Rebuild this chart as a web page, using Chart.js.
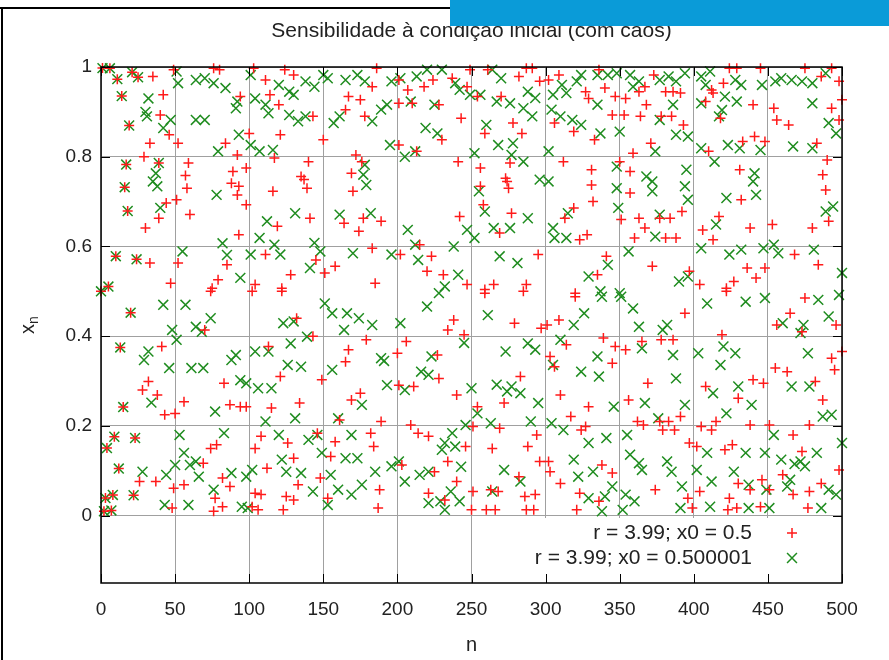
<!DOCTYPE html>
<html>
<head>
<meta charset="utf-8">
<script src="https://cdn.jsdelivr.net/npm/chart.js@4/dist/chart.umd.min.js"></script>
<style>
  html, body { margin: 0; padding: 0; background: #fff; }
  canvas { display: block; }
</style>
</head>
<body>
<canvas id="c" width="889" height="660"></canvas>
<script>
// Logistic map orbits, r = 3.99: first iterates (both starts still coincide)
const startValues = [0.5, 0.9975, 0.00995, 0.03931, 0.15067, 0.51058, 0.99705, 0.01172, 0.04623, 0.17592,
  0.57844, 0.97295, 0.105, 0.37496, 0.93511, 0.2421, 0.73212, 0.78252, 0.67903, 0.86961,
  0.45242, 0.98847, 0.04547, 0.17319, 0.57135, 0.97719];

// [n, x_n] samples after the orbits separate
const redPoints = [
  [35,.979],[49,.994],[76,.997],[80,.994],[42,.938],[40,.893],[46,.849],[33,.830],[52,.830],[29,.800],[59,.786],[57,.758],[58,.730],[51,.704],[44,.697],[60,.671],[39,.663],[30,.641],[84,.830],[92,.804],[89,.767],[88,.741],[93,.734],[92,.715],[94,.934],[93,.626],[33,.563],[52,.563],[85,.559],[47,.518],[75,.507],[79,.526],[39,.786],
  [74,.500],[41,.377],[32,.299],[28,.280],[38,.269],[56,.254],[43,.225],[50,.228],[83,.295],[87,.247],[94,.243],[70,.414],[26,.076],[37,.076],[49,.061],[56,.069],[48,.017],[74,.150],[78,.158],[69,.117],[82,.084],[87,.065],[77,.039],[76,.010],[82,.020],
  [103,.997],[124,.994],[130,.982],[186,.997],[111,.971],[114,.938],[120,.916],[143,.890],[167,.934],[175,.927],[165,.905],[178,.890],[183,.956],[100,.852],[121,.849],[150,.838],[117,.797],[140,.789],[137,.749],[135,.756],[139,.730],[172,.804],[176,.789],[169,.763],[170,.723],[116,.723],[98,.693],[141,.663],[119,.645],[164,.652],[174,.634],[177,.663],[189,.656],[111,.582],[145,.570],[158,.556],[151,.541],[128,.537],[183,.596],[185,.518],[122,.507],[104,.515],[98,.775],
  [102,.500],[122,.500],[132,.440],[143,.400],[113,.377],[167,.370],[165,.343],[179,.392],[121,.310],[149,.303],[175,.273],[169,.258],[115,.240],[134,.251],[98,.243],[189,.210],[161,.213],[108,.177],[126,.162],[104,.150],[182,.184],[158,.165],[184,.154],[130,.128],[155,.132],[112,.106],[148,.084],[133,.069],[104,.050],[108,.047],[125,.043],[130,.035],[106,.013],[102,.020],[123,.013],[153,.039],[188,.058],[187,.017],[146,.184],
  [201,.971],[207,.949],[218,.956],[224,.971],[237,.975],[249,.994],[261,.994],[247,.956],[287,.997],[291,.997],[296,.968],[282,.979],[201,.919],[210,.919],[228,.916],[254,.934],[270,.934],[243,.886],[278,.875],[284,.852],[259,.852],[230,.838],[201,.826],[213,.812],[241,.789],[256,.775],[273,.752],[274,.745],[275,.730],[256,.734],[276,.786],[258,.693],[277,.674],[242,.667],[269,.630],[215,.604],[202,.582],[223,.578],[220,.545],[231,.537],[247,.515],[265,.515],[287,.515],[295,.582],[259,.504],
  [259,.496],[285,.500],[238,.436],[234,.414],[245,.403],[279,.429],[297,.418],[206,.388],[200,.362],[227,.358],[228,.306],[211,.288],[201,.291],[240,.269],[272,.251],[283,.310],[254,.243],[251,.199],[269,.195],[209,.202],[221,.177],[214,.184],[246,.154],[264,.150],[288,.154],[294,.180],[234,.121],[203,.113],[296,.121],[225,.098],[282,.087],[240,.076],[221,.050],[251,.054],[263,.058],[268,.054],[286,.043],[293,.047],[250,.013],[260,.013],[266,.013],[287,.013],[292,.013],[232,.035],
  [302,.971],[309,.982],[336,.994],[340,.953],[327,.945],[329,.930],[347,.934],[354,.930],[363,.945],[367,.956],[373,.982],[381,.945],[386,.945],[391,.942],[368,.916],[345,.893],[353,.893],[364,.890],[378,.890],[385,.890],[393,.871],[306,.875],[319,.856],[333,.838],[371,.830],[359,.808],[312,.789],[331,.771],[350,.789],[357,.767],[331,.737],[332,.700],[357,.719],[319,.686],[313,.663],[351,.660],[363,.663],[367,.641],[377,.663],[384,.663],[392,.678],[328,.626],[323,.615],[360,.619],[381,.619],[388,.619],[341,.578],[335,.537],[372,.556],[397,.545],[320,.496],
  [320,.488],[394,.451],[309,.436],[301,.425],[339,.396],[347,.377],[354,.370],[365,.388],[378,.392],[386,.392],[345,.340],[314,.381],[303,.355],[369,.295],[310,.269],[329,.243],[356,.258],[317,.221],[324,.191],[327,.199],[362,.210],[366,.202],[377,.210],[383,.210],[391,.221],[379,.191],[387,.191],[397,.162],[302,.121],[303,.098],[310,.072],[338,.113],[345,.095],[323,.050],[374,.058],[336,.032],[321,.013],[396,.039],[399,.017],[306,.332],
  [424,.997],[429,.997],[445,.997],[475,.997],[493,.997],[412,.949],[420,.964],[408,.923],[413,.942],[440,.916],[454,.908],[456,.882],[464,.871],[493,.908],[498,.882],[500,.927],[486,.979],[498,.968],[418,.886],[410,.812],[433,.834],[441,.845],[448,.834],[483,.830],[490,.793],[487,.760],[489,.726],[431,.771],[432,.704],[417,.667],[406,.637],[413,.615],[438,.641],[453,.649],[480,.641],[491,.656],[468,.582],[484,.559],[436,.552],[448,.552],[442,.530],[427,.522],[422,.507],[404,.515],
  [422,.500],[475,.485],[465,.451],[456,.425],[473,.410],[496,.425],[419,.403],[500,.366],[493,.351],[495,.325],[455,.329],[463,.321],[440,.303],[447,.295],[482,.299],[408,.288],[430,.262],[487,.258],[415,.210],[405,.199],[412,.191],[438,.202],[451,.202],[478,.202],[467,.180],[402,.154],[421,.147],[426,.158],[473,.143],[498,.102],[460,.091],[430,.072],[438,.058],[446,.080],[451,.058],[486,.072],[478,.054],[467,.047],[404,.054],[424,.039],[445,.020],[423,.013],[429,.017],[477,.017]
];

const greenPoints = [
  [51,.990],[52,.964],[64,.971],[70,.975],[76,.964],[84,.953],[32,.930],[30,.900],[31,.890],[47,.882],[42,.864],[64,.882],[70,.882],[91,.908],[92,.923],[79,.812],[93,.849],[37,.763],[35,.745],[38,.734],[78,.715],[40,.686],[82,.607],[85,.581],[55,.589],[94,.530],[39,.786],
  [42,.470],[57,.470],[74,.440],[48,.414],[51,.392],[64,.421],[68,.410],[32,.366],[29,.347],[46,.329],[61,.329],[69,.329],[88,.347],[91,.358],[94,.302],[34,.252],[77,.232],[53,.180],[83,.184],[56,.140],[50,.113],[60,.113],[44,.091],[66,.087],[28,.098],[76,.058],[88,.095],[43,.024],[59,.024],[95,.020],[64,.121],
  [101,.982],[104,.930],[111,.916],[113,.897],[120,.960],[127,.945],[130,.938],[138,.968],[144,.956],[150,.982],[153,.975],[165,.971],[173,.982],[178,.968],[127,.893],[133,.879],[138,.890],[157,.875],[161,.890],[183,.879],[189,.905],[193,.916],[195,.826],[101,.826],[107,.812],[116,.815],[178,.782],[177,.760],[179,.737],[131,.674],[161,.671],[182,.674],[112,.656],[107,.619],[117,.604],[121,.582],[101,.582],[144,.608],[148,.589],[170,.585],[141,.552],[196,.582],[196,.968],
  [151,.473],[156,.451],[166,.451],[174,.440],[183,.425],[123,.429],[130,.433],[139,.399],[164,.414],[104,.366],[113,.366],[128,.384],[126,.336],[135,.332],[156,.325],[189,.351],[191,.345],[193,.291],[98,.295],[106,.284],[115,.284],[176,.247],[131,.217],[111,.210],[160,.217],[120,.180],[140,.169],[146,.180],[169,.180],[149,.140],[165,.128],[173,.128],[122,.125],[102,.102],[125,.098],[135,.095],[155,.091],[185,.098],[98,.087],[143,.054],[176,.069],[160,.058],[169,.047],[153,.024],[99,.017],[196,.110],
  [202,.975],[213,.979],[220,.994],[230,.994],[239,.964],[242,.949],[249,.938],[256,.938],[264,.994],[270,.975],[267,.923],[276,.919],[288,.945],[293,.931],[285,.908],[291,.890],[209,.923],[225,.916],[219,.864],[227,.852],[260,.871],[268,.826],[278,.830],[212,.812],[205,.800],[252,.808],[277,.804],[285,.789],[296,.749],[255,.723],[259,.678],[265,.641],[276,.641],[288,.663],[247,.637],[252,.619],[207,.637],[212,.604],[238,.600],[269,.578],[281,.563],[214,.570],[241,.537],[232,.511],
  [228,.496],[220,.466],[261,.447],[202,.429],[245,.385],[273,.366],[288,.384],[293,.370],[223,.355],[216,.321],[221,.314],[205,.280],[250,.284],[267,.292],[277,.288],[274,.277],[283,.273],[295,.251],[254,.228],[263,.206],[246,.202],[290,.210],[237,.184],[232,.162],[239,.154],[230,.147],[243,.109],[201,.121],[272,.102],[283,.076],[215,.091],[221,.098],[205,.076],[236,.054],[264,.054],[221,.028],[229,.032],[242,.032],[232,.013],
  [305,.938],[311,.960],[314,.942],[321,.968],[324,.982],[335,.982],[342,.982],[348,.986],[357,.982],[363,.968],[359,.956],[383,.979],[388,.968],[394,.986],[377,.971],[335,.916],[386,.916],[304,.905],[310,.890],[318,.882],[324,.871],[377,.882],[337,.852],[350,.856],[388,.849],[396,.845],[302,.812],[374,.812],[348,.778],[368,.756],[372,.745],[372,.723],[395,.771],[394,.734],[396,.704],[302,.745],[348,.730],[349,.686],[315,.674],[305,.641],[306,.619],[314,.619],[374,.622],[377,.671],[356,.589],[342,.559],[329,.533],[390,.522],[396,.533],[337,.500],[350,.496],
  [338,.488],[351,.488],[359,.462],[326,.451],[319,.425],[363,.421],[382,.425],[379,.414],[310,.392],[365,.373],[335,.355],[386,.358],[305,.336],[324,.321],[336,.310],[388,.306],[367,.251],[394,.247],[346,.243],[304,.206],[312,.191],[376,.217],[341,.173],[355,.180],[329,.162],[319,.125],[332,.098],[322,.087],[357,.136],[363,.117],[365,.102],[382,.121],[385,.098],[392,.065],[345,.065],[329,.039],[340,.043],[354,.047],[360,.032],[338,.010],[352,.013],[391,.017],
  [405,.979],[411,.990],[408,.960],[428,.971],[432,.960],[429,.923],[421,.934],[419,.904],[417,.890],[405,.919],[446,.960],[455,.968],[459,.975],[466,.971],[473,.968],[480,.964],[480,.919],[489,.986],[491,.875],[496,.852],[405,.819],[423,.826],[431,.819],[445,.815],[467,.823],[480,.819],[414,.789],[441,.763],[440,.745],[442,.715],[422,.708],[489,.678],[494,.689],[415,.649],[405,.596],[424,.582],[432,.593],[447,.596],[454,.604],[457,.585],[481,.593],[500,.541],
  [409,.473],[435,.477],[448,.485],[484,.481],[491,.444],[498,.492],[460,.429],[474,.425],[472,.407],[420,.377],[428,.362],[403,.362],[418,.336],[477,.362],[430,.288],[439,.247],[413,.273],[466,.288],[478,.288],[422,.228],[487,.221],[493,.225],[454,.180],[500,.162],[409,.140],[435,.140],[448,.140],[459,.125],[472,.121],[483,.140],[427,.098],[402,.102],[412,.076],[465,.080],[437,.069],[449,.058],[491,.058],[496,.047],[411,.020],[437,.017],[451,.017],[486,.017],[463,.065],[468,.115],[475,.110]
];

const xTicks = [0, 50, 100, 150, 200, 250, 300, 350, 400, 450, 500];
const yTicks = [0, 0.2, 0.4, 0.6, 0.8, 1];
const seriesLabels = ['r = 3.99; x0 = 0.5', 'r = 3.99; x0 = 0.500001'];
const titleText = 'Sensibilidade à condição inicial (com caos)';

const FONT = "'Liberation Sans', Arial, sans-serif";
const TEXT = '#222';
const RED = '#ff1a1a';
const GREEN = '#1f8c1f';

const toXY = ([n, v]) => ({ x: n, y: v });
const startXY = startValues.map((v, n) => ({ x: n, y: v }));

function strokeMarker(ctx, style, r, mx, my) {
  ctx.beginPath();
  if (style === 'cross') {
    ctx.moveTo(mx - r, my); ctx.lineTo(mx + r, my);
    ctx.moveTo(mx, my - r); ctx.lineTo(mx, my + r);
  } else {
    const d = r * Math.SQRT1_2;
    ctx.moveTo(mx - d, my - d); ctx.lineTo(mx + d, my + d);
    ctx.moveTo(mx - d, my + d); ctx.lineTo(mx + d, my - d);
  }
  ctx.stroke();
}

// Title, key, inward tick marks and frame in the gnuplot manner
const gnuplotFrame = {
  id: 'gnuplotFrame',
  afterDatasetsDraw(chart) {
    const { ctx, chartArea: a, scales: { x, y } } = chart;
    ctx.save();
    // key with opaque background
    const kx = a.right - 314, ky = a.bottom - 65;
    ctx.fillStyle = '#fff';
    ctx.fillRect(kx, ky, a.right - kx, a.bottom - ky);
    ctx.font = '21px ' + FONT;
    ctx.fillStyle = TEXT;
    ctx.textAlign = 'right';
    ctx.textBaseline = 'middle';
    const rows = [a.bottom - 50, a.bottom - 25];
    chart.data.datasets.forEach((ds, i) => {
      ctx.fillText(ds.label, a.right - 90, rows[i]);
      ctx.strokeStyle = ds.pointBorderColor;
      ctx.lineWidth = ds.pointBorderWidth;
      strokeMarker(ctx, ds.pointStyle, ds.pointRadius, a.right - 50, rows[i]);
    });
    // inward tick marks on all four sides
    ctx.strokeStyle = '#000';
    ctx.lineWidth = 1;
    ctx.beginPath();
    x.ticks.forEach(t => {
      const px = Math.round(x.getPixelForValue(t.value)) + 0.5;
      ctx.moveTo(px, a.bottom); ctx.lineTo(px, a.bottom - 9);
      ctx.moveTo(px, a.top); ctx.lineTo(px, a.top + 9);
    });
    y.ticks.forEach(t => {
      const py = Math.round(y.getPixelForValue(t.value)) + 0.5;
      ctx.moveTo(a.left, py); ctx.lineTo(a.left + 9, py);
      ctx.moveTo(a.right, py); ctx.lineTo(a.right - 9, py);
    });
    ctx.stroke();
    ctx.lineWidth = 1.5;
    ctx.strokeRect(a.left, a.top, a.right - a.left, a.bottom - a.top);
    ctx.restore();
  },
  afterDraw(chart) {
    const { ctx, chartArea: a } = chart;
    ctx.save();
    // plot title, centred over the plot area
    ctx.fillStyle = TEXT;
    ctx.font = '21px ' + FONT;
    ctx.textAlign = 'center';
    ctx.textBaseline = 'middle';
    ctx.fillText(titleText, (a.left + a.right) / 2, 31);
    // y axis title: x with subscript n
    ctx.translate(28, (a.top + a.bottom) / 2);
    ctx.rotate(-Math.PI / 2);
    ctx.textAlign = 'left';
    ctx.font = '20px ' + FONT;
    const wx = ctx.measureText('x').width;
    ctx.font = '14px ' + FONT;
    const wn = ctx.measureText('n').width;
    const x0 = -(wx + wn) / 2;
    ctx.font = '20px ' + FONT;
    ctx.fillText('x', x0, 0);
    ctx.font = '14px ' + FONT;
    ctx.fillText('n', x0 + wx, 6);
    ctx.restore();
    // page frame and banner
    ctx.save();
    ctx.fillStyle = '#000';
    ctx.fillRect(0, 7, 450, 2);
    ctx.fillRect(1, 7, 2, 653);
    ctx.fillStyle = '#0a9bd8';
    ctx.fillRect(450, 0, 439, 26);
    ctx.restore();
  }
};

new Chart(document.getElementById('c'), {
  type: 'scatter',
  data: {
    datasets: [
      {
        label: seriesLabels[0],
        data: startXY.concat(redPoints.map(toXY)),
        pointStyle: 'cross', pointRadius: 5, pointHoverRadius: 5,
        pointBorderColor: RED, pointBackgroundColor: RED, pointBorderWidth: 1.5,
        clip: false
      },
      {
        label: seriesLabels[1],
        data: startXY.concat(greenPoints.map(toXY)),
        pointStyle: 'crossRot', pointRadius: 7, pointHoverRadius: 7,
        pointBorderColor: GREEN, pointBackgroundColor: GREEN, pointBorderWidth: 1.5,
        clip: false
      }
    ]
  },
  options: {
    responsive: false,
    animation: false,
    devicePixelRatio: 1,
    layout: { padding: { left: 0, right: 47, top: 67, bottom: 0 } },
    plugins: {
      legend: { display: false },
      tooltip: { enabled: false },
      title: { display: false }
    },
    scales: {
      x: {
        type: 'linear', min: 0, max: 500,
        afterBuildTicks: s => { s.ticks = xTicks.map(v => ({ value: v })); },
        afterFit: s => { s.height = 77; },
        grid: { color: '#a0a0a0', lineWidth: 1, drawTicks: false },
        border: { display: false },
        ticks: { color: TEXT, font: { family: FONT, size: 19 }, padding: 15, maxRotation: 0 },
        title: { display: true, text: 'n', color: TEXT, font: { family: FONT, size: 20 }, padding: { top: 0, bottom: 3 } }
      },
      y: {
        type: 'linear', min: -0.15, max: 1,
        afterBuildTicks: s => { s.ticks = yTicks.map(v => ({ value: v })); },
        afterFit: s => { s.width = 101; },
        grid: { color: '#a0a0a0', lineWidth: 1, drawTicks: false },
        border: { display: false },
        ticks: { color: TEXT, font: { family: FONT, size: 19 }, padding: 9, callback: v => String(+v.toFixed(1)) }
      }
    }
  },
  plugins: [gnuplotFrame]
});
</script>
</body>
</html>
